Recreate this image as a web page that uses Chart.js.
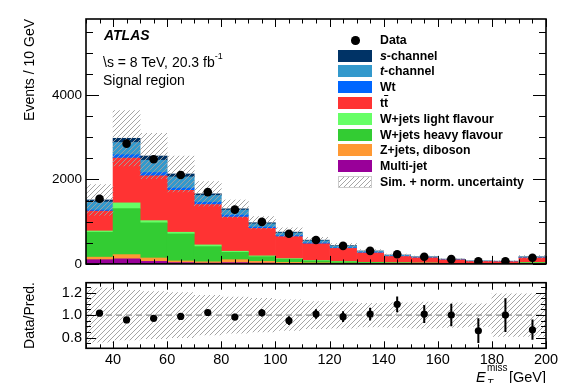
<!DOCTYPE html>
<html>
<head>
<meta charset="utf-8">
<script src="https://cdn.jsdelivr.net/npm/chart.js@4.4.1/dist/chart.umd.min.js"></script>
<style>
  body { margin: 0; background: #fff; }
  #wrap { position: relative; width: 572px; height: 383px; overflow: hidden; background: #fff;
          font-family: "Liberation Sans", Arial, Helvetica, sans-serif; color: #000; }
  #main { position: absolute; left: 0; top: 0; }
  #ratio { position: absolute; left: 0; top: 270px; }
  .txt { position: absolute; white-space: nowrap; line-height: 16px; }
  .leg { position: absolute; left: 380px; font-weight: bold; font-size: 12.3px; line-height: 14px; white-space: nowrap; }
  .box { position: absolute; left: 338px; width: 34px; height: 12px; }
</style>
</head>
<body>
<div id="wrap">
  <canvas id="main" width="572" height="276"></canvas>
  <canvas id="ratio" width="572" height="113"></canvas>
  <div class="txt" style="left:104px;top:27px;font-size:14px;font-weight:bold;font-style:italic;">ATLAS</div>
  <div class="txt" style="left:103px;top:50px;font-size:14px;">\s = 8 TeV, 20.3 fb<sup style="font-size:9px;position:relative;top:-2px;">-1</sup></div>
  <div class="txt" style="left:103px;top:72px;font-size:14px;">Signal region</div>
  <div class="txt" style="left:476px;top:369px;font-size:14.5px;font-style:italic;">E</div>
  <div class="txt" style="left:487px;top:363px;font-size:10px;line-height:10px;">miss</div>
  <div class="txt" style="left:487px;top:379px;font-size:10px;line-height:10px;font-style:italic;">T</div>
  <div class="txt" style="left:509px;top:369px;font-size:14.5px;">[GeV]</div>
  <div id="legend"></div>
</div>
<script>
// bin centres, GeV (10 GeV bins from 30 to 200)
const bins = [35, 45, 55, 65, 75, 85, 95, 105, 115, 125, 135, 145, 155, 165, 175, 185, 195];

// observed events
const dataEvents = [1542, 2848, 2480, 2105, 1700, 1285, 996, 715, 567, 427, 309, 230, 169, 113, 59, 64, 145];

// stacked predictions, bottom to top
const multiJet     = [100, 120, 60, 30, 20, 30, 20, 10, 5, 5, 3, 2, 2, 1, 0, 0, 2];
const zJetsDiboson = [60, 100, 80, 40, 30, 70, 40, 25, 20, 12, 9, 7, 5, 3, 2, 2, 6];
const wJetsHeavy   = [590, 1090, 830, 640, 360, 175, 110, 75, 45, 32, 20, 14, 10, 7, 4, 3, 18];
const wJetsLight   = [30, 135, 55, 40, 40, 25, 20, 15, 10, 8, 6, 5, 4, 3, 2, 1, 5];
const ttbar        = [470, 1060, 1060, 990, 955, 810, 650, 520, 395, 310, 220, 148, 122, 82, 50, 47, 110];
const wt           = [25, 80, 80, 55, 55, 45, 30, 25, 20, 15, 12, 8, 6, 4, 3, 3, 6];
const tChannel     = [190, 290, 290, 265, 160, 120, 80, 62, 52, 38, 27, 19, 13, 9, 6, 6, 15];
const sChannel     = [50, 100, 100, 70, 40, 30, 25, 20, 15, 13, 9, 7, 5, 4, 2, 2, 5];

// relative sim. + norm. uncertainty
const relUncertainty = [0.24, 0.22, 0.21, 0.20, 0.175, 0.16, 0.15, 0.135, 0.12, 0.115, 0.105, 0.11, 0.115, 0.11, 0.10, 0.19, 0.19];

// data / prediction
const ratioValues = [1.017, 0.957, 0.971, 0.988, 1.023, 0.983, 1.02, 0.951, 1.009, 0.986, 1.009, 1.096, 1.009, 1.0, 0.861, 1.0, 0.87];
const ratioErrors = [0.025, 0.02, 0.02, 0.022, 0.025, 0.028, 0.032, 0.038, 0.042, 0.048, 0.057, 0.07, 0.08, 0.1, 0.11, 0.15, 0.09];

// axis ticks
const xMajorTicks = [40, 60, 80, 100, 120, 140, 160, 180, 200];
const yMainTicks = [0, 2000, 4000];
const yRatioTicks = [0.8, 1.0, 1.2];

function range(from, to, step) {
  const out = [];
  for (let v = from; v <= to + 1e-9; v += step) out.push(+v.toFixed(4));
  return out;
}

const colors = {
  sChannel: '#003366',
  tChannel: '#3399cc',
  wt: '#0066ff',
  ttbar: '#ff3333',
  wLight: '#66ff66',
  wHeavy: '#33cc33',
  zJets: '#ff9933',
  multiJet: '#990099',
};

Chart.defaults.font.family = '"Liberation Sans", Arial, Helvetica, sans-serif';
Chart.defaults.color = '#000';

// hatch used for the uncertainty band
const hatchCanvas = document.createElement('canvas');
hatchCanvas.width = 5;
hatchCanvas.height = 5;
(function () {
  const g = hatchCanvas.getContext('2d');
  g.strokeStyle = 'rgba(160,160,160,0.95)';
  g.lineWidth = 1;
  g.beginPath();
  g.moveTo(0, 5); g.lineTo(5, 0);
  g.moveTo(-1, 1); g.lineTo(1, -1);
  g.moveTo(4, 6); g.lineTo(6, 4);
  g.stroke();
})();
const hatch = hatchCanvas.getContext('2d').createPattern(hatchCanvas, 'repeat');

const totals = bins.map((_, i) =>
  multiJet[i] + zJetsDiboson[i] + wJetsHeavy[i] + wJetsLight[i] + ttbar[i] + wt[i] + tChannel[i] + sChannel[i]);

// inside ticks on all four sides plus the frame
const frameTicks = {
  id: 'frameTicks',
  afterDatasetsDraw(chart, args, o) {
    const { ctx, chartArea: a } = chart;
    const x = chart.scales.x, y = chart.scales.y;
    ctx.save();
    ctx.strokeStyle = '#000';
    ctx.lineWidth = 1;
    ctx.beginPath();
    const tickX = (v, len) => {
      const p = Math.round(x.getPixelForValue(v)) + 0.5;
      ctx.moveTo(p, a.bottom); ctx.lineTo(p, a.bottom - len);
      ctx.moveTo(p, a.top); ctx.lineTo(p, a.top + len);
    };
    const tickY = (v, len) => {
      const p = Math.round(y.getPixelForValue(v)) + 0.5;
      ctx.moveTo(a.left, p); ctx.lineTo(a.left + len, p);
      ctx.moveTo(a.right, p); ctx.lineTo(a.right - len, p);
    };
    o.xMinor.forEach(v => tickX(v, o.xMinorLen));
    o.xMajor.forEach(v => tickX(v, o.xMajorLen));
    o.yMinor.forEach(v => tickY(v, o.yMinorLen));
    o.yMajor.forEach(v => tickY(v, o.yMajorLen));
    ctx.stroke();
    ctx.lineWidth = 1.6;
    ctx.strokeRect(a.left, a.top, a.right - a.left, a.bottom - a.top);
    ctx.restore();
  }
};

const errorBars = {
  id: 'errorBars',
  afterDatasetsDraw(chart) {
    const { ctx } = chart;
    const x = chart.scales.x, y = chart.scales.y;
    ctx.save();
    ctx.strokeStyle = '#000';
    ctx.lineWidth = 2;
    ctx.beginPath();
    bins.forEach((b, i) => {
      const px = x.getPixelForValue(b);
      ctx.moveTo(px, y.getPixelForValue(ratioValues[i] - ratioErrors[i]));
      ctx.lineTo(px, y.getPixelForValue(ratioValues[i] + ratioErrors[i]));
    });
    ctx.stroke();
    ctx.restore();
  }
};

function stackSet(label, values, color) {
  return {
    type: 'bar',
    label,
    data: bins.map((b, i) => ({ x: b, y: values[i] })),
    backgroundColor: color,
    borderWidth: 0,
    grouped: false,
    barPercentage: 1,
    categoryPercentage: 1,
  };
}

new Chart(document.getElementById('main'), {
  type: 'bar',
  data: {
    datasets: [
      {
        type: 'scatter',
        label: 'Data',
        data: bins.map((b, i) => ({ x: b, y: dataEvents[i] })),
        backgroundColor: '#000',
        borderWidth: 0,
        pointRadius: 4.3,
        order: -2,
      },
      {
        type: 'bar',
        label: 'Sim. + norm. uncertainty',
        data: bins.map((b, i) => ({ x: b, y: [totals[i] * (1 - relUncertainty[i]), totals[i] * (1 + relUncertainty[i])] })),
        backgroundColor: hatch,
        borderWidth: 0,
        grouped: false,
        stack: 'unc',
        barPercentage: 1,
        categoryPercentage: 1,
        order: -1,
      },
      stackSet('Multi-jet', multiJet, colors.multiJet),
      stackSet('Z+jets, diboson', zJetsDiboson, colors.zJets),
      stackSet('W+jets heavy flavour', wJetsHeavy, colors.wHeavy),
      stackSet('W+jets light flavour', wJetsLight, colors.wLight),
      stackSet('tt', ttbar, colors.ttbar),
      stackSet('Wt', wt, colors.wt),
      stackSet('t-channel', tChannel, colors.tChannel),
      stackSet('s-channel', sChannel, colors.sChannel),
    ]
  },
  options: {
    responsive: false,
    animation: false,
    events: [],
    layout: { padding: { left: 0, top: 19, right: 26, bottom: 9.5 } },
    plugins: {
      legend: { display: false },
      tooltip: { enabled: false },
      frameTicks: {
        xMajor: xMajorTicks, xMinor: range(30, 200, 5), xMajorLen: 8, xMinorLen: 4.5,
        yMajor: yMainTicks, yMinor: range(0, 5500, 500), yMajorLen: 13, yMinorLen: 7,
      },
    },
    scales: {
      x: { type: 'linear', min: 30, max: 200, offset: false, display: false },
      y: {
        type: 'linear', min: 0, max: 5800, stacked: true,
        grid: { display: false, drawTicks: false },
        border: { display: false },
        afterBuildTicks: s => { s.ticks = yMainTicks.map(v => ({ value: v })); },
        afterFit: s => { s.width = 86; },
        ticks: { font: { size: 13.5 }, padding: 4, callback: v => String(v) },
        title: { display: true, text: 'Events / 10 GeV', align: 'end', font: { size: 14 }, padding: { top: 21.6, bottom: 0 } },
      },
    },
  },
  plugins: [frameTicks],
});

new Chart(document.getElementById('ratio'), {
  type: 'bar',
  data: {
    datasets: [
      {
        type: 'scatter',
        label: 'Data/Pred.',
        data: bins.map((b, i) => ({ x: b, y: ratioValues[i] })),
        backgroundColor: '#000',
        borderWidth: 0,
        pointRadius: 3.6,
        order: 0,
      },
      {
        type: 'line',
        label: 'unity',
        data: [{ x: 30, y: 1 }, { x: 200, y: 1 }],
        borderColor: '#8c8c8c',
        borderWidth: 1.3,
        borderDash: [6, 4],
        pointRadius: 0,
        order: 1,
      },
      {
        type: 'bar',
        label: 'uncertainty',
        data: bins.map((b, i) => ({ x: b, y: [1 - relUncertainty[i], 1 + relUncertainty[i]] })),
        backgroundColor: hatch,
        borderWidth: 0,
        grouped: false,
        barPercentage: 1,
        categoryPercentage: 1,
        order: 2,
      },
    ]
  },
  options: {
    responsive: false,
    animation: false,
    events: [],
    layout: { padding: { left: 0, top: 10.7, right: 26, bottom: 0 } },
    plugins: {
      legend: { display: false },
      tooltip: { enabled: false },
      frameTicks: {
        xMajor: xMajorTicks, xMinor: range(30, 200, 5), xMajorLen: 7, xMinorLen: 4,
        yMajor: yRatioTicks, yMinor: range(0.75, 1.25, 0.05), yMajorLen: 10, yMinorLen: 5,
      },
    },
    scales: {
      x: {
        type: 'linear', min: 30, max: 200, offset: false,
        grid: { display: false, drawTicks: false },
        border: { display: false },
        afterBuildTicks: s => { s.ticks = xMajorTicks.map(v => ({ value: v })); },
        afterFit: s => { s.height = 34.7; },
        ticks: { font: { size: 14.5 }, padding: 3, maxRotation: 0, callback: v => String(v) },
      },
      y: {
        type: 'linear', min: 0.705, max: 1.288,
        grid: { display: false, drawTicks: false },
        border: { display: false },
        afterBuildTicks: s => { s.ticks = yRatioTicks.map(v => ({ value: v })); },
        afterFit: s => { s.width = 86; },
        ticks: { font: { size: 14.5 }, padding: 4, callback: v => v.toFixed(1) },
        title: { display: true, text: 'Data/Pred.', align: 'center', font: { size: 14 }, padding: { top: 21.6, bottom: 0 } },
      },
    },
  },
  plugins: [frameTicks, errorBars],
});

// legend
const legendEntries = [
  { html: '<i>s</i>-channel', color: colors.sChannel },
  { html: '<i>t</i>-channel', color: colors.tChannel },
  { html: 'Wt', color: colors.wt },
  { html: 't<span style="text-decoration:overline">t</span>', color: colors.ttbar },
  { html: 'W+jets light flavour', color: colors.wLight },
  { html: 'W+jets heavy flavour', color: colors.wHeavy },
  { html: 'Z+jets, diboson', color: colors.zJets },
  { html: 'Multi-jet', color: colors.multiJet },
  { html: 'Sim. + norm. uncertainty', hatch: true },
];
const legend = document.getElementById('legend');
let rows = '<div style="position:absolute;left:351px;top:36px;width:8.6px;height:8.6px;border-radius:50%;background:#000"></div>'
  + '<div class="leg" style="top:33px">Data</div>';
legendEntries.forEach((e, i) => {
  const cy = 55.5 + i * 15.8;
  const bg = e.hatch
    ? 'background:url(' + hatchCanvas.toDataURL() + ');border:1px solid #ccc;box-sizing:border-box;'
    : 'background:' + e.color + ';';
  rows += '<div class="box" style="top:' + (cy - 6) + 'px;' + bg + '"></div>';
  rows += '<div class="leg" style="top:' + (cy - 7) + 'px">' + e.html + '</div>';
});
legend.innerHTML = rows;
</script>
</body>
</html>
